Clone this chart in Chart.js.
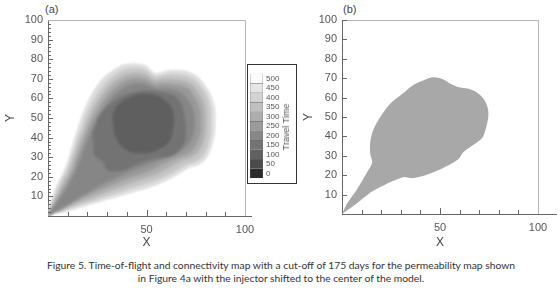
<!DOCTYPE html>
<html>
<head>
<meta charset="utf-8">
<script src="https://cdn.jsdelivr.net/npm/chart.js@4.4.2/dist/chart.umd.min.js"></script>
<style>
  body { margin: 0; background: #fff; width: 560px; height: 290px; position: relative; overflow: hidden; font-family: "Liberation Sans", Arial, sans-serif; }
  canvas { position: absolute; }
  .tag { position: absolute; font-size: 11px; color: #444; }
  #legendBox { position: absolute; left: 247px; top: 64px; width: 48px; height: 118px; border: 1px solid #333; background: #fff; }
  #ttLabel { position: absolute; left: 286px; top: 127px; transform: translate(-50%, -50%) rotate(-90deg); font-size: 9px; color: #555; white-space: nowrap; }
  #caption { position: absolute; left: 0; top: 259px; width: 562px; text-align: center; font-family: Lato, sans-serif; font-size: 10.3px; line-height: 13px; color: #333; }
</style>
</head>
<body>
<div class="tag" style="left:45px;top:3px">(a)</div>
<div class="tag" style="left:343px;top:3px">(b)</div>
<canvas id="chartA" width="262" height="250" style="left:0;top:0"></canvas>
<canvas id="chartB" width="262" height="250" style="left:298px;top:0"></canvas>
<div id="legendBox"></div>
<canvas id="colorbar" width="34" height="120" style="left:249px;top:66px"></canvas>
<div id="ttLabel">Travel Time</div>
<div id="caption">Figure 5. Time-of-flight and connectivity map with a cut-off of 175 days for the permeability map shown<br>in Figure 4a with the injector shifted to the center of the model.</div>
<script>
const xTicks = [50, 100];
const yTicks = [10, 20, 30, 40, 50, 60, 70, 80, 90, 100];
const travelLevels = [0, 50, 100, 150, 200, 250, 300, 350, 400, 450, 500];
const travelColors = ['#2b2b2b', '#4b4b4b', '#616161', '#747474', '#878787', '#9a9a9a', '#adadad', '#c0c0c0', '#d3d3d3', '#e6e6e6', '#fbfbfb'];

// time-of-flight bands, outermost (longest travel time) first
const tofBand1 = [[0,0],[2,8],[5,16],[8.6,23],[12,33],[15,43],[20,56.8],[27,68.6],[34,74.6],[40,77],[49,76.5],[54,72.5],[58,73],[63,74],[73,72.5],[79.7,66],[83.8,57],[84.5,48],[83.8,40],[81,31.4],[77,27],[71,24.8],[63,20],[54.3,16],[43,12.5],[32.3,9.5],[22,6.5],[15,4.4],[7,2]];
const tofBand2 = [[0,0],[3,8],[6.5,16],[10,23],[13.5,33],[17,43],[22,55.5],[28.5,66],[35,72],[41,74.5],[49,74],[54,70.5],[58,71],[63,71.5],[72,70],[78,64.5],[81.5,56.5],[82,48],[81.5,40],[79,32.5],[75,28.5],[69.5,26.5],[62,22],[53.5,18.5],[43,15],[32,11.5],[22,8],[14,5.5],[6,2.5]];
const tofBand3 = [[0,0],[4,8],[8,16],[11.5,23],[15,33],[18.5,42.5],[23.5,54],[30,64],[36,69.5],[42,72],[49,71.5],[54,68.5],[58,69],[63,69],[71,67.5],[76,62.5],[79,55.5],[79.5,48],[79,41],[76.5,34],[72.5,30.5],[67,28.5],[60,24.5],[52.5,21],[42,17.5],[31,13.5],[21,9.5],[12,6],[5,2.5]];
const tofBand4 = [[0.5,0.5],[5,8],[9.5,16],[13,23],[16.5,32.5],[20,42],[25,52.5],[31,61.5],[37,67],[43,69.5],[49,69],[54,66.5],[58,67],[63,66.5],[70,65],[74,60.5],[76.5,54.5],[77,48],[76.5,41.5],[74,35.5],[70,32],[64.5,30],[58,27],[51,23.5],[41,20],[30,15.5],[20,11],[11,6.5],[4,2.5]];
const tofBand5 = [[1,1],[6,8],[11,16],[14.5,23],[18,32],[21.5,41],[26.5,51],[32,59],[38,64.5],[44,67],[50,66.5],[55,64.5],[60,64.5],[66,63],[71,58.5],[73.5,53],[74,47],[73,41],[70.5,36.5],[66,33],[59,30],[50,26.5],[40,22.5],[30,18],[20,12.5],[11,7],[4,3]];
const tofBand6 = [[23,43],[23.5,37],[24,31.4],[28,28],[30.5,23.7],[37.4,23.7],[44,26.3],[54.3,29.8],[62,31],[66,33.5],[69,38],[69.5,43],[69,50],[68,55],[66,59],[62.8,61.5],[56,63],[49,63.5],[43,62.5],[37.4,60.5],[32,57],[28,53],[25,48.5]];
const tofBand7 = [[33,48.3],[34,53.5],[37,57.5],[42,60.5],[49,62],[55,61],[59.4,58.5],[62.5,54.5],[63.5,50],[63,44],[61,38],[57,35],[52.6,33],[47,32.5],[42.5,33],[38,35.5],[35,40],[33.5,44]];
const tofBandColors = ['#dadada', '#c4c4c4', '#adadad', '#989898', '#868686', '#737373', '#5f5f5f'];

// region connected within the cut-off
const connectedArea = [[0,0],[3,6],[7.7,12.8],[12.8,21.5],[15.4,26.5],[14.4,31],[14.4,37],[16,43.5],[19.5,50],[24.7,57],[31.5,62.5],[36.6,66.6],[41.7,69],[46.7,70.5],[51.5,69.5],[55.6,67],[59,65.5],[64.6,64.5],[69,62.5],[72.5,59],[74.5,54],[74.5,49],[72,40],[69,37],[62,32],[59,28],[46.7,21.5],[36.7,18.5],[31,19],[16,12],[7,5]];

const toPoints = arr => arr.map(p => ({ x: p[0], y: p[1] }));

const frame = {
  id: 'frame',
  beforeDatasetsDraw(chart, args, opts) {
    chart.ctx.save();
    if (opts.blur) chart.ctx.filter = 'blur(' + opts.blur + 'px)';
  },
  afterDatasetsDraw(chart) {
    chart.ctx.restore();
  },
  afterDraw(chart, args, opts) {
    const { ctx, chartArea: a, scales: { x, y } } = chart;
    ctx.save();
    ctx.lineWidth = 1;
    ctx.strokeStyle = '#b4b4b4';
    ctx.beginPath();
    ctx.moveTo(a.left, a.top + 0.5);
    ctx.lineTo(a.right + 0.5, a.top + 0.5);
    ctx.lineTo(a.right + 0.5, a.bottom);
    ctx.stroke();
    ctx.strokeStyle = '#666';
    ctx.beginPath();
    ctx.moveTo(a.right, a.bottom + 0.5);
    ctx.lineTo(a.right + opts.extend, a.bottom + 0.5);
    opts.xMarks.forEach(v => {
      const px = Math.round(x.getPixelForValue(v)) + 0.5;
      ctx.moveTo(px, a.bottom);
      ctx.lineTo(px, a.bottom - (v % 50 === 0 ? 6 : 4));
    });
    opts.yMarks.forEach(v => {
      const py = Math.round(y.getPixelForValue(v)) + 0.5;
      ctx.moveTo(a.left, py);
      ctx.lineTo(a.left + (v % 10 === 0 ? 5 : 3), py);
    });
    ctx.stroke();
    ctx.restore();
  }
};

function mapOptions(yWidth, xHeight, padRight, frameOpts) {
  return {
    responsive: false,
    animation: false,
    layout: { padding: { left: 0, top: 20, right: padRight, bottom: 0 } },
    plugins: { legend: { display: false }, tooltip: { enabled: false }, frame: frameOpts },
    elements: { point: { radius: 0 } },
    scales: {
      x: {
        type: 'linear', min: 0, max: 100,
        afterBuildTicks: s => { s.ticks = xTicks.map(v => ({ value: v })); },
        afterFit: s => { s.height = xHeight; },
        ticks: { autoSkip: false, maxRotation: 0, padding: 7, color: '#555', font: { size: 11 } },
        grid: { drawOnChartArea: false, drawTicks: false },
        border: { color: '#666' },
        title: { display: true, text: 'X', color: '#444', font: { size: 12 }, padding: 0 }
      },
      y: {
        type: 'linear', min: 0, max: 100,
        afterBuildTicks: s => { s.ticks = yTicks.map(v => ({ value: v })); },
        afterFit: s => { s.width = yWidth; },
        ticks: { autoSkip: false, padding: 5, color: '#555', font: { size: 11 } },
        grid: { drawOnChartArea: false, drawTicks: false },
        border: { color: '#666' },
        title: { display: true, text: 'Y', color: '#444', font: { size: 12 }, padding: { top: 3, bottom: 0 } }
      }
    }
  };
}

const minorY = [];
for (let v = 2; v < 100; v += 2) minorY.push(v);

const bands = [tofBand1, tofBand2, tofBand3, tofBand4, tofBand5, tofBand6, tofBand7];
new Chart(document.getElementById('chartA'), {
  type: 'scatter',
  data: {
    datasets: bands.map((band, i) => ({
      data: toPoints(band),
      showLine: true,
      fill: 'shape',
      tension: 0.4,
      borderWidth: 1.5,
      borderColor: tofBandColors[i],
      backgroundColor: tofBandColors[i],
      order: bands.length - i
    }))
  },
  options: mapOptions(48, 34, 17, { blur: 1.3, extend: 7, xMarks: [10, 20, 30, 40, 50, 60, 70, 80, 90], yMarks: minorY }),
  plugins: [frame]
});

new Chart(document.getElementById('chartB'), {
  type: 'scatter',
  data: {
    datasets: [{
      data: toPoints(connectedArea),
      showLine: true,
      fill: 'shape',
      tension: 0.3,
      borderWidth: 0,
      backgroundColor: '#a8a8a8'
    }]
  },
  options: mapOptions(44, 36, 22, { blur: 0, extend: 19, xMarks: [10, 20, 30, 40, 50, 60, 70, 80, 90], yMarks: yTicks }),
  plugins: [frame]
});

new Chart(document.getElementById('colorbar'), {
  type: 'bar',
  data: {
    labels: [''],
    datasets: travelLevels.map((v, i) => ({
      data: [[v - 25, v + 25]],
      backgroundColor: travelColors[i],
      borderColor: '#666',
      borderWidth: 0.6,
      barPercentage: 1,
      categoryPercentage: 1
    }))
  },
  options: {
    responsive: false,
    animation: false,
    layout: { padding: { left: 1, top: 5, bottom: 5, right: 0 } },
    plugins: { legend: { display: false }, tooltip: { enabled: false } },
    scales: {
      x: { display: false, stacked: true },
      y: {
        position: 'right', min: -25, max: 525,
        afterBuildTicks: s => { s.ticks = travelLevels.map(v => ({ value: v })); },
        afterFit: s => { s.width = 20; },
        ticks: { autoSkip: false, padding: 3, color: '#555', font: { size: 8 } },
        grid: { display: false, drawTicks: false },
        border: { display: false }
      }
    }
  }
});
</script>
</body>
</html>
